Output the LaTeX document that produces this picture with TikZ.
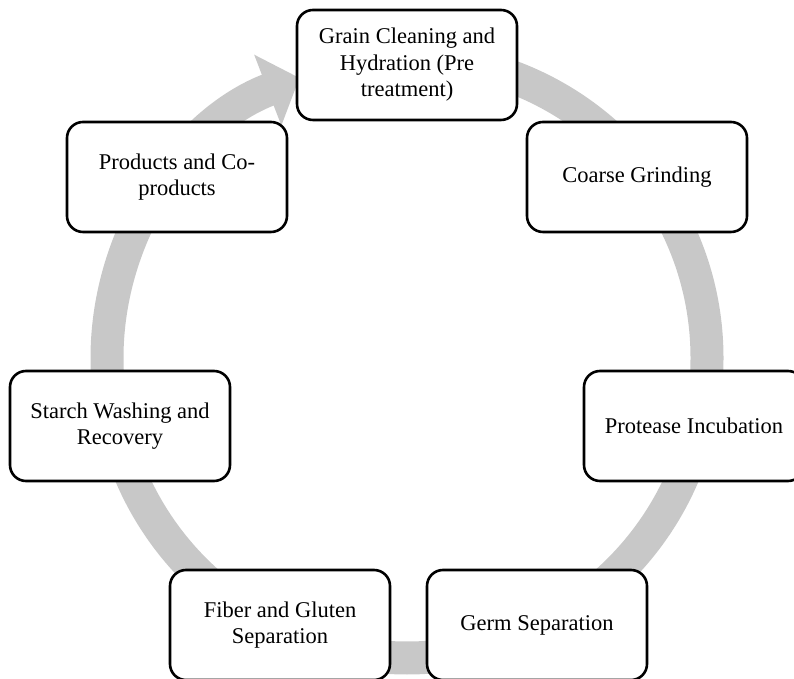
\documentclass[tikz,border=0pt]{standalone}
\usepackage{fontspec}
\setmainfont{Liberation Serif}
\usetikzlibrary{arrows.meta}
\definecolor{ringgray}{RGB}{200,200,200}

\begin{document}
\begin{tikzpicture}[x=1pt, y=1pt,
		stage/.style={draw, line width=2.6pt, rounded corners=16pt, fill=white,
			minimum width=220pt, minimum height=110pt, align=center,
			font=\fontsize{22.5}{26.5}\selectfont},
		ring/.style={draw=ringgray, line width=33pt}]
		\useasboundingbox (0,0) rectangle (794,679);
		\clip (0,0) rectangle (794,679);
		% gray cycle arrow behind the boxes
		\draw[ring, -{Triangle[width=74pt, length=34pt]}] (407,621) arc[start angle=90, end angle=-249, radius=300];
		\node[stage] (grain) at (407,614) {Grain Cleaning and\\Hydration (Pre\\treatment)};
		\node[stage] (grind) at (637,502) {Coarse Grinding};
		\node[stage] (protease) at (694,253) {Protease Incubation};
		\node[stage] (germ) at (537,54) {Germ Separation};
		\node[stage] (fiber) at (280,54) {Fiber and Gluten\\Separation};
		\node[stage] (starch) at (120,253) {Starch Washing and\\Recovery};
		\node[stage] (products) at (177,502) {Products and Co-\\products};
	\end{tikzpicture}
\end{document}
